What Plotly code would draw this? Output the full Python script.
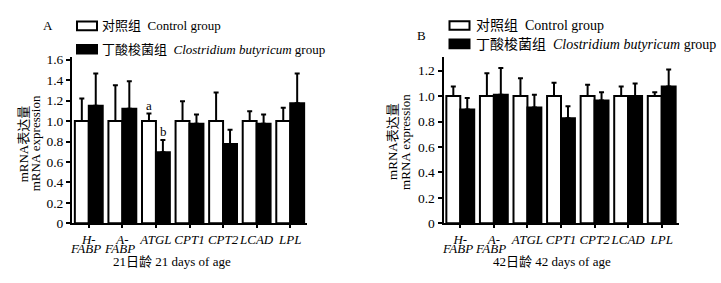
import plotly.graph_objects as go

W, H = 721, 283

genes = ["H-FABP", "A-FABP", "ATGL", "CPT1", "CPT2", "LCAD", "LPL"]
gene_labels = ["<i>H-</i>", "<i>A-</i>", "<i>ATGL</i>",
               "<i>CPT1</i>", "<i>CPT2</i>", "<i>LCAD</i>", "<i>LPL</i>"]
second_line = {"H-FABP": "FABP", "A-FABP": "FABP"}

# Panel A: 21 days of age
a_ctrl = [1.00, 1.00, 1.00, 1.00, 1.00, 1.00, 1.00]
a_ctrl_top = [1.22, 1.35, 1.075, 1.195, 1.28, 1.095, 1.13]
a_cb = [1.15, 1.12, 0.695, 0.975, 0.775, 0.975, 1.175]
a_cb_top = [1.465, 1.39, 0.815, 1.065, 0.915, 1.065, 1.465]

# Panel B: 42 days of age
b_ctrl = [1.00, 1.00, 1.00, 1.00, 1.00, 1.00, 1.00]
b_ctrl_top = [1.075, 1.18, 1.14, 1.105, 1.09, 1.075, 1.03]
b_cb = [0.895, 1.01, 0.91, 0.825, 0.965, 1.0, 1.075]
b_cb_top = [0.985, 1.22, 1.01, 0.92, 1.03, 1.10, 1.21]

a_ticks = [0, 0.2, 0.4, 0.6, 0.8, 1.0, 1.2, 1.4, 1.6]
a_ticktext = ["0", "0.2", "0.4", "0.6", "0.8", "1.0", "1.2", "1.4", "1.6"]
b_ticks = [0, 0.2, 0.4, 0.6, 0.8, 1.0, 1.2]
b_ticktext = ["0", "0.2", "0.4", "0.6", "0.8", "1.0", "1.2"]

FONT = "Liberation Serif, 'Noto Sans CJK SC', serif"


def px(x):
    return x / W


def py(y):
    return 1 - y / H


fig = go.Figure()


def add_pair(ctrl, ctop, cb, cbtop, xa, ya):
    fig.add_trace(go.Bar(
        x=genes, y=ctrl, xaxis=xa, yaxis=ya, showlegend=False,
        marker=dict(color="white", line=dict(color="black", width=2)),
        error_y=dict(type="data", symmetric=False,
                     array=[t - v for t, v in zip(ctop, ctrl)],
                     arrayminus=[0] * len(ctrl),
                     color="black", thickness=2, width=2.5),
    ))
    fig.add_trace(go.Bar(
        x=genes, y=cb, xaxis=xa, yaxis=ya, showlegend=False,
        marker=dict(color="black", line=dict(color="black", width=2)),
        error_y=dict(type="data", symmetric=False,
                     array=[t - v for t, v in zip(cbtop, cb)],
                     arrayminus=[0] * len(cb),
                     color="black", thickness=2, width=2.5),
    ))


add_pair(a_ctrl, a_ctrl_top, a_cb, a_cb_top, "x", "y")
add_pair(b_ctrl, b_ctrl_top, b_cb, b_cb_top, "x2", "y2")

ydom = [py(229), py(55)]
xcommon = dict(type="category", tickmode="array", tickvals=genes, ticktext=gene_labels,
               tickangle=0,
               showline=True, linecolor="black", linewidth=2, ticks="outside",
               ticklen=3, tickwidth=1.5, tickcolor="black", showgrid=False,
               zeroline=False, range=[-0.5, 6.5],
               tickfont=dict(family=FONT, size=13, color="black"))
ycommon = dict(showline=True, linecolor="black", linewidth=2, ticks="outside",
               ticklen=4, tickwidth=1.5, tickcolor="black", showgrid=False,
               zeroline=False, tickfont=dict(family=FONT, size=13.5, color="black"),
               domain=ydom)

fig.update_layout(
    width=W, height=H, margin=dict(l=0, r=0, t=0, b=0),
    paper_bgcolor="white", plot_bgcolor="white",
    barmode="group", bargap=0.17, bargroupgap=0,
    font=dict(family=FONT, size=13, color="black"),
    xaxis=dict(domain=[px(72), px(307)], anchor="y", **xcommon),
    xaxis2=dict(domain=[px(443.5), px(678.5)], anchor="y2", **xcommon),
    yaxis=dict(range=[0, 1.63], tickvals=a_ticks, ticktext=a_ticktext, anchor="x", **ycommon),
    yaxis2=dict(range=[0, 1.31], tickvals=b_ticks, ticktext=b_ticktext, anchor="x2", **ycommon),
)

shapes = []
ann = []


def text(x, y, s, xanchor="center", size=13, angle=0):
    ann.append(dict(xref="paper", yref="paper", x=px(x), y=py(y), xanchor=xanchor,
                    yanchor="middle", showarrow=False, textangle=angle, text=s,
                    borderpad=0, font=dict(family=FONT, size=size)))


# legends (drawn manually to reproduce wide swatches)
def legend(x0, y1c, y2c, tx, size):
    shapes.append(dict(type="rect", xref="paper", yref="paper",
                       x0=px(x0), x1=px(x0 + 20), y0=py(y1c + 4.5), y1=py(y1c - 4.5),
                       line=dict(color="black", width=2), fillcolor="white"))
    shapes.append(dict(type="rect", xref="paper", yref="paper",
                       x0=px(x0), x1=px(x0 + 20), y0=py(y2c + 4.5), y1=py(y2c - 4.5),
                       line=dict(color="black", width=2), fillcolor="black"))
    text(tx, y1c, "对照组  Control group", "left", size)
    text(tx, y2c, "丁酸梭菌组  <i>Clostridium butyricum</i> group", "left", size)


legend(77, 22.8, 47.3, 101, 13)
legend(449.5, 22.5, 41.7, 475, 14)

# panel letters
text(48, 22, "A")
text(421, 33, "B")

# y titles
for xc1, xc2, yc in [(23.5, 35.5, 146), (393, 406, 144)]:
    text(xc1, yc, "mRNA表达量", angle=-90)
    text(xc2, yc, "mRNA expression", angle=-90)

# x titles
text(172, 269, "21日龄 21 days of age")
text(552, 269, "42日龄 42 days of age")

# second line of the two-line gene tick labels
for xa, ya in [("x", "y"), ("x2", "y2")]:
    for g, s in second_line.items():
        ann.append(dict(xref=xa, yref=ya, x=g, y=0, xshift=-3, yshift=-25,
                        xanchor="center", yanchor="middle", showarrow=False,
                        borderpad=0, text="<i>%s</i>" % s,
                        font=dict(family=FONT, size=13)))

# significance letters
ann.append(dict(xref="x", yref="y", x="ATGL", y=a_ctrl_top[2], xshift=-7, yshift=-1,
                xanchor="center", yanchor="bottom", showarrow=False, text="a",
                borderpad=0, font=dict(family=FONT, size=13)))
ann.append(dict(xref="x", yref="y", x="ATGL", y=a_cb_top[2], xshift=8, yshift=0,
                xanchor="center", yanchor="bottom", showarrow=False, text="b",
                borderpad=0, font=dict(family=FONT, size=13)))

fig.update_layout(shapes=shapes, annotations=ann)
fig.write_html("out.html")
